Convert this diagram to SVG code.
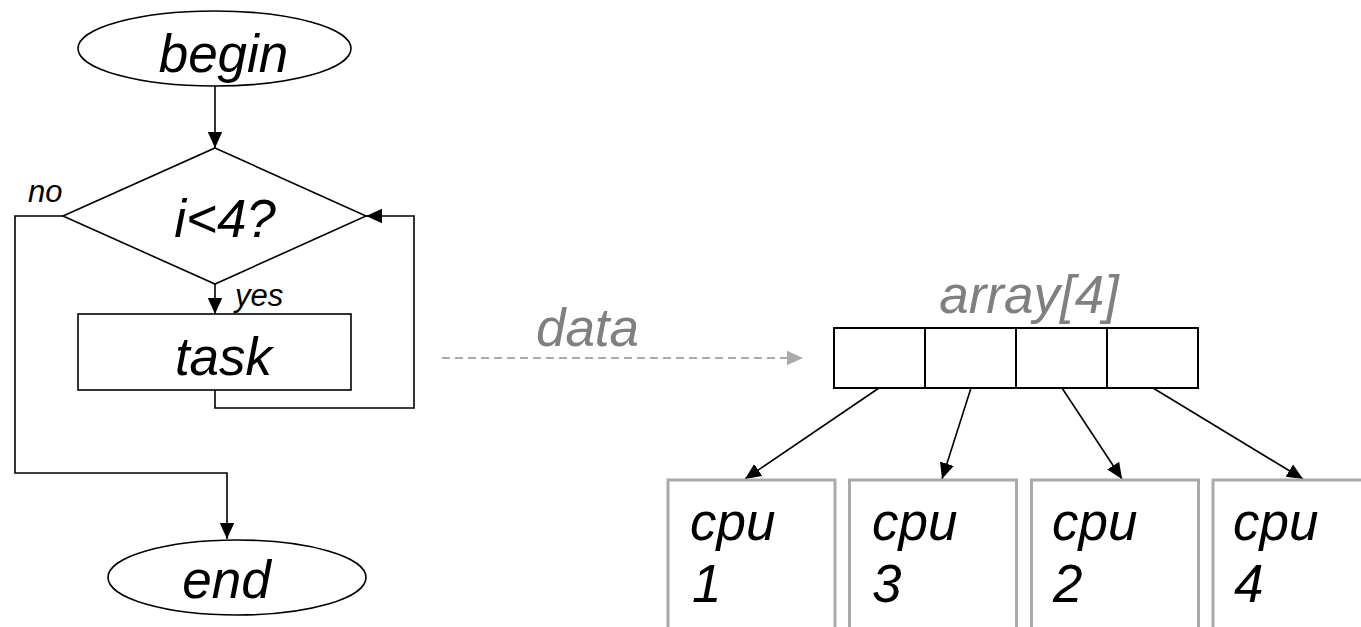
<svg xmlns="http://www.w3.org/2000/svg" width="1361" height="627" viewBox="0 0 1361 627">
<style>
.shape{fill:#fff;stroke:#000;stroke-width:1.6}
.cell{fill:#fff;stroke:#000;stroke-width:2}
.cpu{fill:#fff;stroke:#aaa;stroke-width:3}
.big{font-family:"Liberation Sans",Arial,sans-serif;font-style:italic;font-size:53px;fill:#000}
.small{font-family:"Liberation Sans",Arial,sans-serif;font-style:italic;font-size:31px;fill:#000}
.gray{fill:#808080}
.conn{fill:none;stroke:#000;stroke-width:1.6}
</style>
<defs>
<marker id="ah" viewBox="0 0 10 10" refX="10" refY="5" markerWidth="16" markerHeight="16" markerUnits="userSpaceOnUse" orient="auto"><path d="M0,0.5 L10,5 L0,9.5 z" fill="#000"/></marker>
<marker id="ahg" viewBox="0 0 10 10" refX="10" refY="5" markerWidth="16" markerHeight="16" markerUnits="userSpaceOnUse" orient="auto"><path d="M0,0.5 L10,5 L0,9.5 z" fill="#aaa"/></marker>
</defs>
<rect width="1361" height="627" fill="#fff"/>
<g id="connectors">
<line class="conn" x1="215" y1="86" x2="215" y2="148" marker-end="url(#ah)"/>
<line class="conn" x1="215" y1="284" x2="215" y2="314" marker-end="url(#ah)"/>
<polyline class="conn" points="215,390 215,408 414,408 414,216 366,216" marker-end="url(#ah)"/>
<polyline class="conn" points="63,216 15,216 15,473 227,473 227,539" marker-end="url(#ah)"/>
<line x1="442" y1="358" x2="803" y2="358" stroke="#aaa" stroke-width="2" stroke-dasharray="8 5" marker-end="url(#ahg)"/>
<line class="conn" x1="879" y1="388" x2="745" y2="479" marker-end="url(#ah)"/>
<line class="conn" x1="971" y1="388" x2="942" y2="479" marker-end="url(#ah)"/>
<line class="conn" x1="1062" y1="388" x2="1122" y2="479" marker-end="url(#ah)"/>
<line class="conn" x1="1153" y1="388" x2="1303" y2="479" marker-end="url(#ah)"/>
</g>
<g id="begin">
<ellipse class="shape" cx="214.5" cy="48.5" rx="136.5" ry="37.5"/>
<text class="big" x="223.5" y="72" text-anchor="middle">begin</text>
</g>
<g id="decision">
<polygon class="shape" points="215,148 366,216 215,284 63,216"/>
<text class="big" x="225" y="237" text-anchor="middle">i&lt;4?</text>
</g>
<g id="label-no"><text class="small" x="28" y="202">no</text></g>
<g id="label-yes"><text class="small" x="235" y="306">yes</text></g>
<g id="task">
<rect class="shape" x="78" y="314" width="273" height="76"/>
<text class="big" x="223.5" y="375" text-anchor="middle">task</text>
</g>
<g id="end">
<ellipse class="shape" cx="237" cy="577.5" rx="129" ry="37.5"/>
<text class="big" x="226.5" y="598" text-anchor="middle">end</text>
</g>
<g id="label-data"><text class="big gray" x="587.5" y="346" text-anchor="middle">data</text></g>
<g id="array">
<text class="big gray" x="1029" y="313" text-anchor="middle">array[4]</text>
<rect class="cell" x="834" y="328" width="91" height="60"/>
<rect class="cell" x="925" y="328" width="91" height="60"/>
<rect class="cell" x="1016" y="328" width="91" height="60"/>
<rect class="cell" x="1107" y="328" width="91" height="60"/>
</g>
<g id="cpu1">
<rect class="cpu" x="668" y="480" width="167" height="170"/>
<text class="big" x="690" y="540">cpu</text><text class="big" x="692" y="602">1</text>
</g>
<g id="cpu3">
<rect class="cpu" x="849.5" y="480" width="167" height="170"/>
<text class="big" x="872" y="540">cpu</text><text class="big" x="872" y="602">3</text>
</g>
<g id="cpu2">
<rect class="cpu" x="1031.5" y="480" width="167" height="170"/>
<text class="big" x="1052" y="540">cpu</text><text class="big" x="1053" y="602">2</text>
</g>
<g id="cpu4">
<rect class="cpu" x="1213" y="480" width="167" height="170"/>
<text class="big" x="1233" y="540">cpu</text><text class="big" x="1234" y="602">4</text>
</g>
</svg>
